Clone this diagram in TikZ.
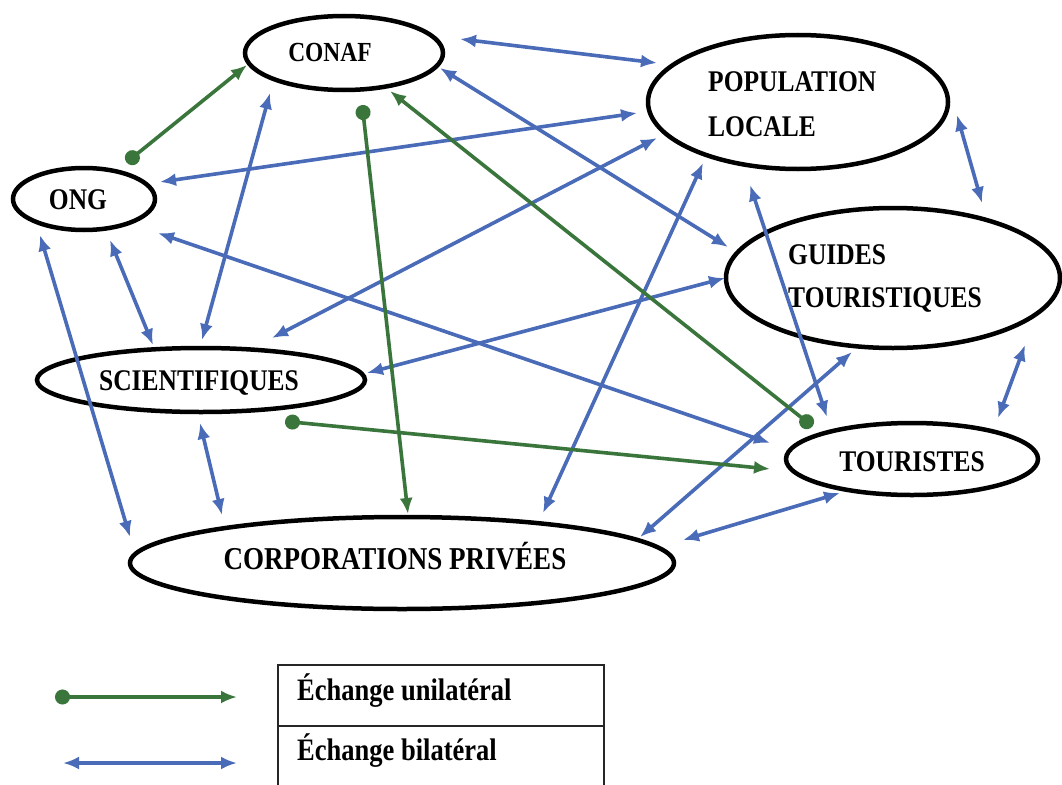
\documentclass[tikz,border=0pt]{standalone}
\usepackage{fontspec}
\setmainfont{Liberation Serif}
\usepackage{graphicx}
\usetikzlibrary{arrows.meta,shapes.geometric}
\definecolor{myblue}{RGB}{74,107,184}
\definecolor{mygreen}{RGB}{58,118,60}
\newcommand{\tall}[1]{\scalebox{1.02}[1.2]{#1}}
\tikzset{
  ell/.style={ellipse, draw=black, line width=4.5pt, inner sep=0pt},
  lbl/.style={font=\bfseries\fontsize{25}{30}\selectfont, inner sep=0pt},
  bi/.style={draw=myblue, line width=3.6pt, {Latex[length=16pt,width=13pt]}-{Latex[length=16pt,width=13pt]}},
  uni/.style={draw=mygreen, line width=3.6pt, shorten <=-7pt, {Circle[length=15pt]}-{Latex[length=16pt,width=13pt]}},
  legline/.style={draw=black!85, line width=1.3pt}
}
\begin{document}
\begin{tikzpicture}[x=1pt,y=-1pt]
\useasboundingbox[fill=white] (0,0) rectangle (1062,784);

% ellipses
\node[ell, minimum width=198pt, minimum height=74pt] (conaf) at (344,53) {};
\node[ell, minimum width=142pt, minimum height=62pt] (ong) at (84,199) {};
\node[ell, minimum width=328pt, minimum height=64pt] (sci) at (201,380) {};
\node[ell, minimum width=300pt, minimum height=134pt] (pop) at (798,102) {};
\node[ell, minimum width=334pt, minimum height=140pt] (guides) at (893,278) {};
\node[ell, minimum width=252pt, minimum height=72pt] (tour) at (912,459) {};
\node[ell, minimum width=544pt, minimum height=92pt] (corp) at (402,563) {};

% labels
\node[lbl, font=\bfseries\fontsize{23}{28}\selectfont] (conaft) at (330,52) {\tall{CONAF}};
\node[lbl] (ongt) at (78,200) {\tall{ONG}};
\node[lbl] (scit) at (199,383) {\tall{SCIENTIFIQUES}};
\node[lbl, anchor=west] (popt1) at (708,82) {\tall{POPULATION}};
\node[lbl, anchor=west] (popt2) at (708,127) {\tall{LOCALE}};
\node[lbl, anchor=west] (guidest1) at (788,255) {\tall{GUIDES}};
\node[lbl, anchor=west] (guidest2) at (788,300) {\tall{TOURISTIQUES}};
\node[lbl] (tourt) at (912,462) {\tall{TOURISTES}};
\node[lbl, font=\bfseries\fontsize{26.5}{30}\selectfont] (corpt) at (395,556) {\tall{CORPORATIONS PRIVÉES}};

% endpoints
\coordinate (g1a) at (132,158); \coordinate (g1b) at (247,65);
\coordinate (g2a) at (363,112); \coordinate (g2b) at (408,514);
\coordinate (g3a) at (807,422); \coordinate (g3b) at (390,91);
\coordinate (g4a) at (292,422); \coordinate (g4b) at (770,469);

\coordinate (b5a) at (460,39);  \coordinate (b5b) at (657,63);
\coordinate (b6a) at (160,182); \coordinate (b6b) at (637,113);
\coordinate (b7a) at (440,68);  \coordinate (b7b) at (728,247);
\coordinate (b8a) at (272,338); \coordinate (b8b) at (657,138);
\coordinate (b9a) at (202,340); \coordinate (b9b) at (270,93);
\coordinate (b10a) at (110,240); \coordinate (b10b) at (153,345);
\coordinate (b11a) at (40,235); \coordinate (b11b) at (130,537);
\coordinate (b12a) at (158,233); \coordinate (b12b) at (770,443);
\coordinate (b13a) at (367,373); \coordinate (b13b) at (725,278);
\coordinate (b14a) at (543,513); \coordinate (b14b) at (703,163);
\coordinate (b15a) at (750,185); \coordinate (b15b) at (827,417);
\coordinate (b16a) at (640,537); \coordinate (b16b) at (852,352);
\coordinate (b17a) at (683,540); \coordinate (b17b) at (840,493);
\coordinate (b18a) at (957,115); \coordinate (b18b) at (982,203);
\coordinate (b19a) at (1025,345); \coordinate (b19b) at (998,418);
\coordinate (b20a) at (200,423); \coordinate (b20b) at (222,515);

% bilateral
\foreach \i in {5,...,20} {\draw[bi] (b\i a) -- (b\i b);}
% unilateral
\foreach \i in {1,...,4} {\draw[uni] (g\i a) -- (g\i b);}

% legend
\coordinate (lga) at (62,697); \coordinate (lgb) at (237,697);
\coordinate (lba) at (63,763); \coordinate (lbb) at (237,763);
\draw[uni] (lga) -- (lgb);
\draw[bi] (lba) -- (lbb);
\coordinate (bx1) at (278,665); \coordinate (bx2) at (604,665);
\coordinate (bx3) at (278,726); \coordinate (bx4) at (604,726);
\coordinate (bx5) at (278,790); \coordinate (bx6) at (604,790);
\draw[legline] (bx5) -- (bx1) -- (bx2) -- (bx6);
\draw[legline] (bx3) -- (bx4);
\node[lbl, font=\bfseries\fontsize{26}{30}\selectfont, anchor=base west] (leg1) at (297,700) {\tall{Échange unilatéral}};
\node[lbl, font=\bfseries\fontsize{26}{30}\selectfont, anchor=base west] (leg2) at (297,760) {\tall{Échange bilatéral}};
\end{tikzpicture}
\end{document}
